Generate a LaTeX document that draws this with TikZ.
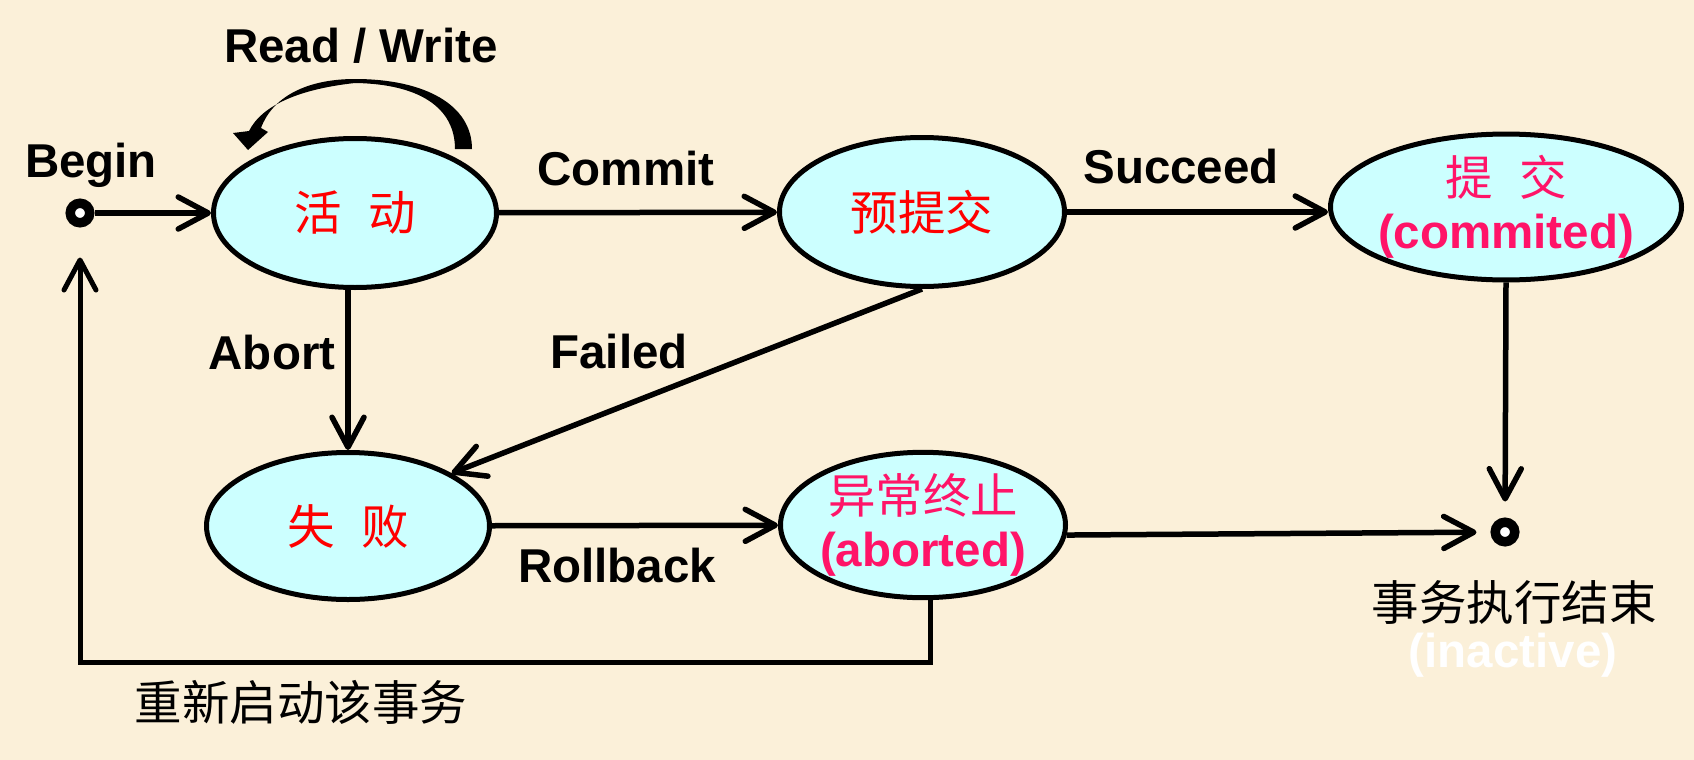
\documentclass[tikz,border=0pt]{standalone}
\usepackage{fontspec}
\setmainfont{Liberation Sans}
\newfontfamily\cjk{Noto Sans CJK SC}
\usetikzlibrary{arrows.meta,shapes.geometric}
\definecolor{bg}{HTML}{FBF0D9}
\definecolor{stfill}{HTML}{CCFFFF}
\definecolor{cnred}{HTML}{FF0000}
\definecolor{pinkred}{HTML}{FF1468}
\begin{document}
\begin{tikzpicture}[x=1pt,y=-1pt,
  lab/.style={font=\fontsize{47.5}{50}\selectfont\bfseries, anchor=base, inner sep=0},
  cnlab/.style={font=\fontsize{47.5}{50}\selectfont\cjk, anchor=base, inner sep=0},
  st/.style={ellipse, draw=black, line width=5pt, fill=stfill, inner sep=0,
    font=\fontsize{47.5}{53}\selectfont, align=center},
  dotnode/.style={circle, draw=black, fill=white, line width=9.5pt, minimum size=19.5pt, inner sep=0},
  conn/.style={line width=5.5pt, -{Straight Barb[length=30pt,width=32pt,round]}},
]
\fill[bg] (0,0) rectangle (1694,760);
\useasboundingbox (0,0) rectangle (1694,760);

% states
\node[dotnode] (bdot) at (80,213) {};
\node[st, minimum width=283pt, minimum height=149pt, text=cnred] (act) at (355,213) {\cjk 活\hspace{0.55em}动};
\node[st, minimum width=285pt, minimum height=149pt, text=cnred] (pc) at (922,212) {\cjk 预提交};
\node[st, minimum width=351pt, minimum height=145pt, text=pinkred] (cm) at (1506,207)
  {\makebox[200pt]{\cjk 提\hspace{0.55em}交}\\\makebox[200pt]{\bfseries (commited)}};
\node[st, minimum width=283pt, minimum height=147pt, text=cnred] (fl) at (348,526) {\cjk 失\hspace{0.55em}败};
\node[st, minimum width=285pt, minimum height=145pt, text=pinkred] (ab) at (923,525)
  {\makebox[200pt]{\cjk 异常终止}\\\makebox[200pt]{\bfseries (aborted)}};
\node[dotnode] (edot) at (1505,532) {};

% labels
\node[lab] (tbegin) at (91,177) {Begin};
\node[lab] (trw) at (361,63) {Read / Write};
\node[lab] (tcommit) at (626,185) {Commit};
\node[lab] (tsucc) at (1181,183) {Succeed};
\node[lab] (tabort) at (272,369) {Abort};
\node[lab] (tfailed) at (619,368) {Failed};
\node[lab] (troll) at (617,582) {Rollback};
\node[cnlab] (trestart) at (301,720) {重新启动该事务};
\node[cnlab] (tend) at (1514,620) {事务执行结束};
\node[lab, text=white] (tinact) at (1513,667) {(inactive)};

% connectors
\draw[conn] (bdot) -- (act);
\draw[conn] (act) -- (pc);
\draw[conn] (pc.east) -- (pc.east -| cm.west);
\draw[conn] (act.south -| fl.north) -- (fl.north);
\draw[conn] (pc.south) -- (fl.27);
\draw[conn] (fl) -- (ab);
\draw[conn, shorten >=16pt] (cm.south) -- (edot);
\draw[conn, shorten >=14pt] (ab.-4) -- (edot);
\coordinate (rc) at (80,662);
\draw[conn, line width=5pt, shorten >=30pt] (ab.-84) |- (rc) -- (bdot);

% self loop (Read / Write)
\fill[black] (472,149) .. controls (472,105) and (425,79) .. (355,79)
  .. controls (305,79) and (272,98) .. (261,128)
  -- (268,132) -- (248,150) -- (233,133) -- (249,131)
  .. controls (262,105) and (300,89) .. (355,83)
  .. controls (420,84) and (455,108) .. (455,149) -- cycle;
\end{tikzpicture}
\end{document}
